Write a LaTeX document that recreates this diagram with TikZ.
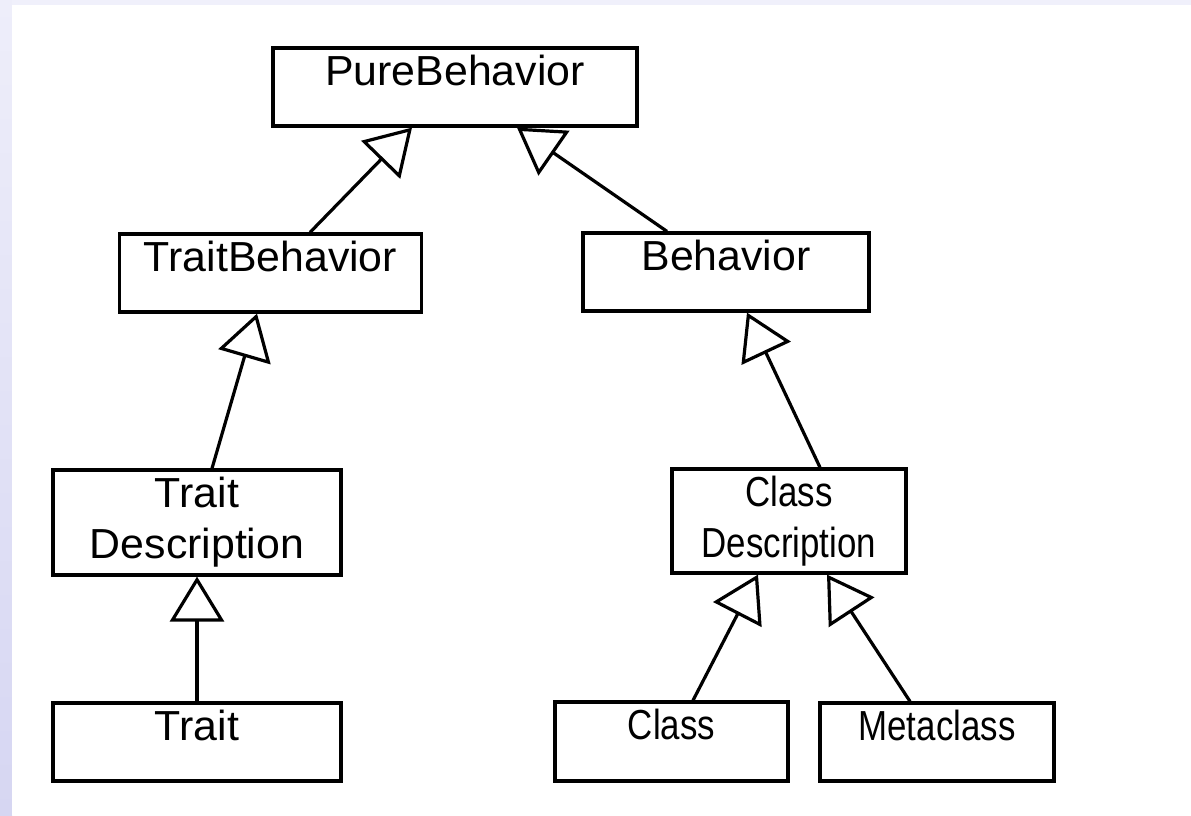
\documentclass[tikz,border=0pt]{standalone}
\usepackage{fontspec}
\setmainfont{Liberation Sans}
\usetikzlibrary{arrows.meta}
\definecolor{bgtop}{RGB}{238,238,250}
\definecolor{bgbot}{RGB}{214,214,242}
\definecolor{bgstrip}{RGB}{240,240,251}
\newcommand{\txtw}[1]{\scalebox{1.02}[1]{#1}}
\newcommand{\txtn}[1]{\scalebox{0.83}[1]{#1}}
\tikzset{
  cls/.style={draw=black, line width=3.2pt, fill=white, inner sep=0pt, rectangle},
  lbl/.style={anchor=north, inner sep=0pt, align=center, font=\fontsize{42}{51}\selectfont},
  gen/.style={draw=black, line width=3.2pt, -{Triangle[length=45pt,width=54pt,fill=white,line join=miter]}},
}
\begin{document}
\begin{tikzpicture}[x=1pt,y=-1pt]
\useasboundingbox (0,0) rectangle (1191,815);
\shade[top color=bgtop, bottom color=bgbot] (0,0) rectangle (12,815);
\fill[bgstrip] (12,0) rectangle (1191,5);
\fill[white] (12,5) rectangle (1191,815);

\node[cls, minimum width=364pt, minimum height=78pt] (pb) at (455,87) {};
\node[cls, minimum width=302pt, minimum height=78pt] (tb) at (270.5,273) {};
\node[cls, minimum width=286pt, minimum height=78pt] (bh) at (726,272) {};
\node[cls, minimum width=288pt, minimum height=105pt] (td) at (197,522.5) {};
\node[cls, minimum width=234pt, minimum height=104pt] (cd) at (789,521) {};
\node[cls, minimum width=288pt, minimum height=78pt] (tr) at (197,742) {};
\node[cls, minimum width=233pt, minimum height=79pt] (cl) at (671.5,741.5) {};
\node[cls, minimum width=234pt, minimum height=78pt] (mc) at (937,742) {};

\node[lbl] (pbl) at ([yshift=-8pt]pb.north) {\txtw{PureBehavior}};
\node[lbl] (tbl) at ([yshift=-8pt]tb.north) {\txtw{TraitBehavior}};
\node[lbl] (bhl) at ([yshift=-8pt]bh.north) {\txtw{Behavior}};
\node[lbl] (tdl) at ([yshift=-8pt]td.north) {\txtw{Trait}\\\txtw{Description}};
\node[lbl] (cdl) at ([yshift=-8pt]cd.north) {\txtn{Class}\\\txtn{Description}};
\node[lbl] (trl) at ([yshift=-8pt]tr.north) {\txtw{Trait}};
\node[lbl] (cll) at ([yshift=-8pt]cl.north) {\txtn{Class}};
\node[lbl] (mcl) at ([yshift=-8pt]mc.north) {\txtn{Metaclass}};

\draw[gen] ([xshift=39.5pt]tb.north) -- ([xshift=-43pt]pb.south);
\draw[gen] ([xshift=-59pt]bh.north) -- ([xshift=62pt]pb.south);
\draw[gen] ([xshift=15pt]td.north) -- ([xshift=-13.5pt]tb.south);
\draw[gen] ([xshift=31pt]cd.north) -- ([xshift=21pt]bh.south);
\draw[gen] (tr.north) -- (td.south);
\draw[gen] ([xshift=21.5pt]cl.north) -- ([xshift=-31pt]cd.south);
\draw[gen] ([xshift=-27pt]mc.north) -- ([xshift=38pt]cd.south);
\end{tikzpicture}
\end{document}
